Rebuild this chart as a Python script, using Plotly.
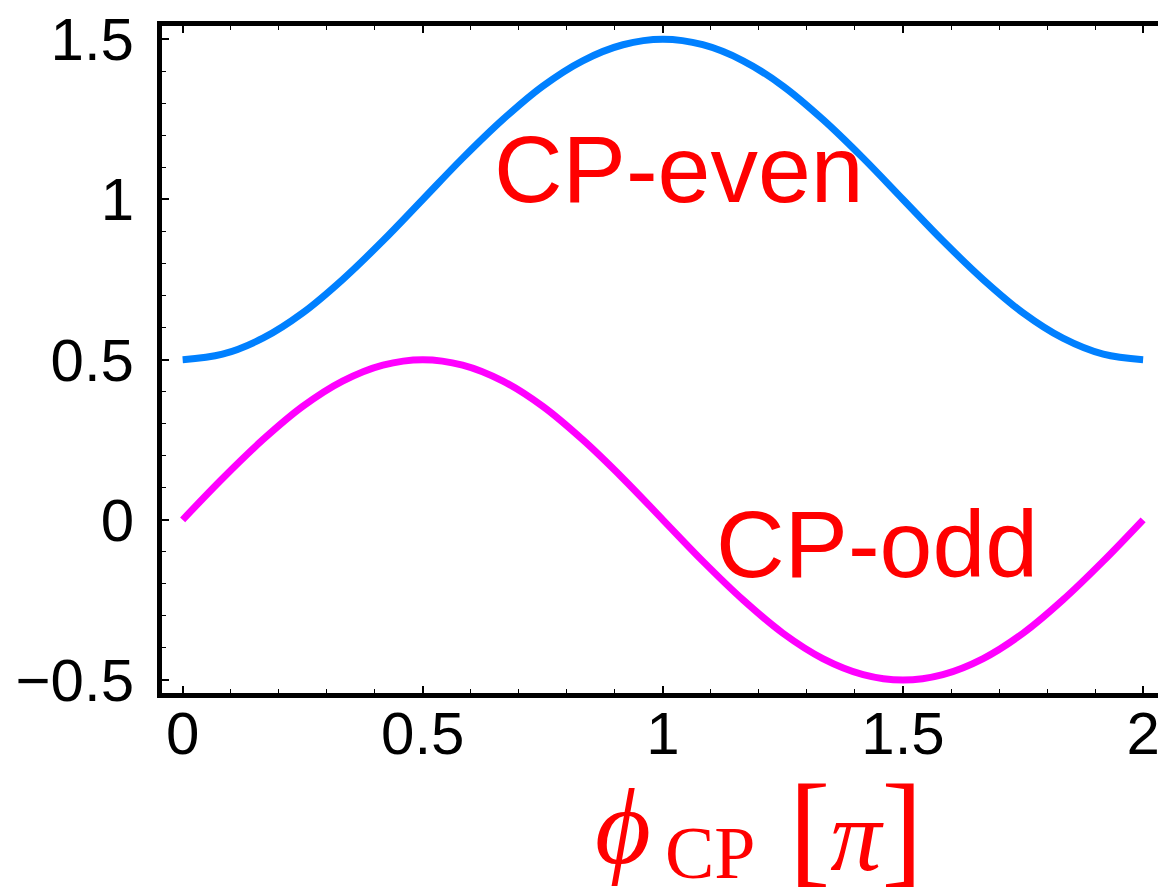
import plotly.graph_objects as go

# phase phi_CP in units of pi
phi = [0.000, 0.083, 0.167, 0.250, 0.333, 0.417, 0.500, 0.583, 0.667, 0.750, 0.833, 0.917, 1.000,
       1.083, 1.167, 1.250, 1.333, 1.417, 1.500, 1.583, 1.667, 1.750, 1.833, 1.917, 2.000]
cp_even = [0.500, 0.517, 0.567, 0.646, 0.750, 0.871, 1.000, 1.129, 1.250, 1.354, 1.433, 1.483, 1.500,
           1.483, 1.433, 1.354, 1.250, 1.129, 1.000, 0.871, 0.750, 0.646, 0.567, 0.517, 0.500]
cp_odd = [0.000, 0.129, 0.250, 0.354, 0.433, 0.483, 0.500, 0.483, 0.433, 0.354, 0.250, 0.129, 0.000,
          -0.129, -0.250, -0.354, -0.433, -0.483, -0.500, -0.483, -0.433, -0.354, -0.250, -0.129, 0.000]

x_tickvals = [0, 0.5, 1, 1.5, 2]
x_ticktext = ["0", "0.5", "1", "1.5", "2"]
y_tickvals = [-0.5, 0, 0.5, 1, 1.5]
y_ticktext = ["\u22120.5", "0", "0.5", "1", "1.5"]

BLUE = "#0080ff"
MAGENTA = "#ff00ff"
RED = "#ff0000"
SANS = "Liberation Sans, Arial, sans-serif"
SERIF = "Liberation Serif, Times New Roman, serif"

# plot-area geometry in page pixels
W, H = 1160, 888
L, R, T, B = 162, 1160, 26, 693

def px(xp):
    return (xp - L) / (R - L)

def py(yp):
    return (B - yp) / (B - T)

fig = go.Figure()
fig.add_trace(go.Scatter(x=phi, y=cp_even, mode="lines",
                         line=dict(color=BLUE, width=7, shape="spline", smoothing=1.0),
                         name="CP-even"))
fig.add_trace(go.Scatter(x=phi, y=cp_odd, mode="lines",
                         line=dict(color=MAGENTA, width=7, shape="spline", smoothing=1.0),
                         name="CP-odd"))

fig.add_annotation(x=1.0335, y=1.095, xref="x", yref="y", text="CP-even",
                   showarrow=False, font=dict(family=SANS, size=95, color=RED),
                   xanchor="center", yanchor="middle")
fig.add_annotation(x=1.446, y=-0.077, xref="x", yref="y", text="CP-odd",
                   showarrow=False, font=dict(family=SANS, size=95, color=RED),
                   xanchor="center", yanchor="middle")

# x-axis title: phi_CP [pi], built from pieces
fig.add_annotation(x=px(624), y=py(826), xref="paper", yref="paper",
                   text="<i>\u03d5</i>", showarrow=False,
                   font=dict(family=SERIF, size=108, color=RED),
                   xanchor="center", yanchor="middle")
fig.add_annotation(x=px(712), y=py(853), xref="paper", yref="paper",
                   text="CP", showarrow=False,
                   font=dict(family=SERIF, size=74, color=RED),
                   xanchor="center", yanchor="middle")
fig.add_annotation(x=px(857), y=py(828), xref="paper", yref="paper",
                   text="[<span style='font-size:102px'><i>\u03c0</i></span>]",
                   showarrow=False,
                   font=dict(family=SERIF, size=124, color=RED),
                   xanchor="center", yanchor="middle")

axis_common = dict(showgrid=False, zeroline=False, showline=True, linecolor="black",
                   linewidth=5, ticks="inside", ticklen=7, tickwidth=1.5,
                   tickcolor="black", ticklabeloverflow="allow",
                   tickfont=dict(family=SANS, size=60, color="black"))
minor_common = dict(dtick=0.1, tick0=0, ticks="inside", ticklen=4,
                    tickwidth=1, tickcolor="black")

fig.update_layout(
    width=W, height=H,
    margin=dict(l=L, r=W - R, t=T, b=H - B),
    paper_bgcolor="white", plot_bgcolor="white",
    showlegend=False,
    xaxis=dict(range=[-0.043, 2.031], tickvals=x_tickvals, ticktext=x_ticktext,
               mirror="ticks", ticklabelstandoff=-16, minor=minor_common,
               **axis_common),
    yaxis=dict(range=[-0.5406, 1.5415], tickvals=y_tickvals, ticktext=y_ticktext,
               ticklabelstandoff=11, minor=minor_common,
               **axis_common),
)

fig.write_html("out.html")
